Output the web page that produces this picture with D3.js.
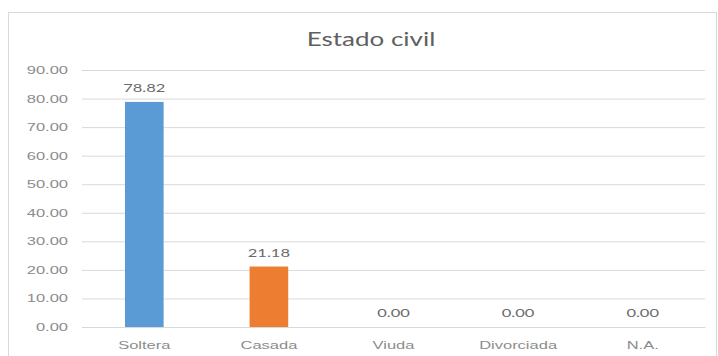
<!DOCTYPE html>
<html>
<head>
<meta charset="utf-8">
<script src="https://cdn.jsdelivr.net/npm/d3@7"></script>
<style>
  html, body { margin: 0; padding: 0; background: #fff; }
  svg { display: block; font-family: Lato, "Open Sans", "Liberation Sans", sans-serif; }
</style>
</head>
<body>
<svg id="chart" width="718" height="356"></svg>
<script>
// Marital status distribution (%)
const categories = ["Soltera", "Casada", "Viuda", "Divorciada", "N.A."];
const values = [78.82, 21.18, 0.00, 0.00, 0.00];
const barColors = ["#5b9bd5", "#ed7d31", "#a5a5a5", "#ffc000", "#4472c4"];
const yTicks = [0, 10, 20, 30, 40, 50, 60, 70, 80, 90];
const title = "Estado civil";

const svg = d3.select("#chart");
const W = 718, H = 356;
const margin = { left: 82, right: 13, top: 70, bottom: 29 };
const fmt = d3.format(".2f");

// Text in this chart is set wide: stretch horizontally around the anchor point
const SX = 1.5, SX_TITLE = 1.3;
function stretch(sel, s) {
  sel.each(function () {
    const t = d3.select(this);
    const x0 = +(t.attr("x") || 0);
    t.attr("x", x0 / s).attr("transform", `scale(${s},1)`);
  });
}

// Chart area frame
svg.append("rect")
  .attr("x", 8.5).attr("y", 12.5)
  .attr("width", 708).attr("height", H)
  .attr("fill", "#fff").attr("stroke", "#d9d9d9");

const x = d3.scaleBand()
  .domain(categories)
  .range([margin.left, W - margin.right])
  .paddingInner(0.69)
  .paddingOuter(0.345);

const y = d3.scaleLinear()
  .domain([0, 90])
  .range([H - margin.bottom, margin.top]);

// Gridlines + value axis labels
const yAxis = d3.axisLeft(y)
  .tickValues(yTicks)
  .tickSize(-(W - margin.left - margin.right))
  .tickPadding(14)
  .tickFormat(fmt);

const gy = svg.append("g")
  .attr("transform", `translate(${margin.left},0)`)
  .call(yAxis);
gy.select(".domain").remove();
gy.selectAll(".tick line").attr("stroke", "#d9d9d9").attr("stroke-width", 1);
gy.selectAll(".tick text")
  .attr("fill", "#8c8c8c")
  .style("font-size", "11px")
  .call(stretch, SX);

// Category axis
const xAxis = d3.axisBottom(x).tickSize(0).tickPadding(14);
const gx = svg.append("g")
  .attr("transform", `translate(0,${y(0)})`)
  .call(xAxis);
gx.select(".domain").attr("stroke", "#d9d9d9");
gx.selectAll(".tick text")
  .attr("fill", "#8c8c8c")
  .style("font-size", "11px")
  .call(stretch, SX);

// Bars
svg.append("g").selectAll("rect")
  .data(values)
  .join("rect")
  .attr("x", (d, i) => x(categories[i]))
  .attr("y", d => y(d))
  .attr("width", x.bandwidth())
  .attr("height", d => y(0) - y(d))
  .attr("fill", (d, i) => barColors[i]);

// Value labels
svg.append("g").selectAll("text")
  .data(values)
  .join("text")
  .attr("x", (d, i) => x(categories[i]) + x.bandwidth() / 2)
  .attr("y", d => y(d) - 10)
  .attr("text-anchor", "middle")
  .attr("fill", "#6a6a6a")
  .style("font-size", "11px")
  .text(d => fmt(d))
  .call(stretch, SX);

// Title
svg.append("text")
  .attr("x", 371)
  .attr("y", 46)
  .attr("text-anchor", "middle")
  .attr("fill", "#606060")
  .style("font-size", "20px")
  .text(title)
  .call(stretch, SX_TITLE);
</script>
</body>
</html>
